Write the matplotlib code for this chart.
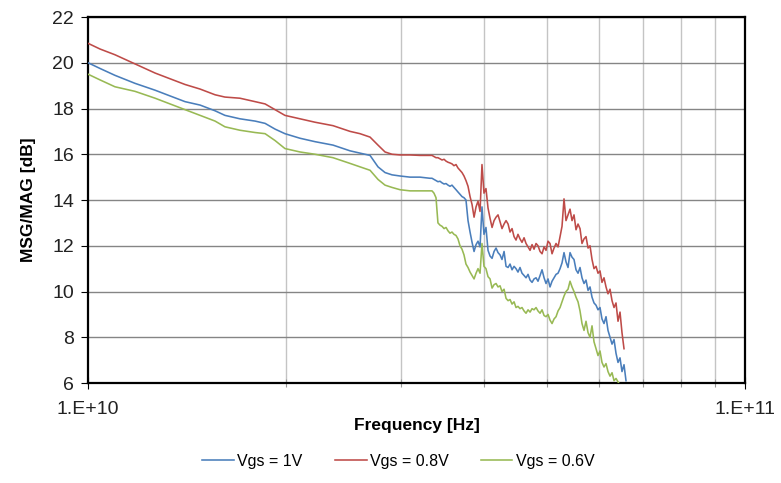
import math
import matplotlib
matplotlib.use('Agg')
import matplotlib.pyplot as plt
from matplotlib.ticker import FixedLocator, NullFormatter, FuncFormatter

# frequency samples (GHz)
freq_smooth = [10.00, 10.43, 10.99, 11.79, 12.65, 13.33, 14.05, 14.81, 15.61, 16.16,
               17.03, 17.96, 18.60, 19.26, 19.94, 21.02, 22.16, 23.60, 25.05, 25.94,
               26.87, 27.63, 28.32, 29.02, 29.85, 30.91, 32.01, 33.15]
freq_noisy = [33.39, 33.62, 33.86, 34.09, 34.34, 34.58, 34.83, 35.07, 35.32, 35.56,
              35.81, 36.06, 36.32, 36.57, 36.83, 37.09, 37.35, 37.61, 37.88, 38.15,
              38.42, 38.69, 38.96, 39.23, 39.51, 39.78, 40.06, 40.34, 40.63, 40.92,
              41.21, 41.50, 41.79, 42.08, 42.38, 42.67, 42.98, 43.28, 43.59, 43.89,
              44.20, 44.51, 44.82, 45.13, 45.45, 45.77, 46.10, 46.42, 46.75, 47.08,
              47.41, 47.74, 48.08, 48.41, 48.76, 49.10, 49.45, 49.79, 50.14, 50.49,
              50.85, 51.21, 51.57, 51.93, 52.30, 52.66, 53.03, 53.40, 53.78, 54.16,
              54.54, 54.92, 55.31, 55.70, 56.09, 56.48, 56.88, 57.28, 57.69, 58.09,
              58.50, 58.91, 59.33, 59.74, 60.16, 60.58, 61.01, 61.44, 61.87, 62.31,
              62.75, 63.19, 63.63, 64.08, 64.53, 64.98, 65.44, 65.90]

# Vgs = 1V
msg_1v = [20.0, 19.75, 19.45, 19.1, 18.8, 18.55, 18.3, 18.15, 17.9, 17.7,
          17.55, 17.45, 17.35, 17.1, 16.9, 16.7, 16.55, 16.4, 16.15, 16.05,
          15.95, 15.45, 15.2, 15.1, 15.05, 15.0, 15.0, 14.95,
          14.95, 14.9, 14.85, 14.8, 14.82, 14.75, 14.7, 14.72, 14.65, 14.6,
          14.65, 14.55, 14.45, 14.35, 14.25, 14.15, 14.1, 14.0, 13.1, 12.6,
          12.15, 11.75, 12.05, 12.2, 11.95, 13.7, 12.5, 12.8, 11.8, 11.55,
          11.45, 11.75, 11.9, 11.7, 11.6, 11.4, 11.75, 11.1, 11.05, 11.2,
          10.95, 11.1, 11.0, 10.85, 11.05, 10.8, 10.7, 10.6, 10.75, 10.5,
          10.4, 10.55, 10.6, 10.45, 10.7, 10.95, 10.6, 10.35, 10.55, 10.2,
          10.45, 10.6, 10.75, 10.8, 11.0, 11.25, 11.7, 11.3, 11.05, 11.7,
          11.5, 11.4, 10.95, 10.8, 11.05, 10.6, 10.35, 10.5, 10.05, 10.2,
          9.75, 9.5, 9.4, 9.2, 9.3, 8.8, 8.6, 8.9, 8.3, 8.0,
          7.7, 7.9, 7.3, 6.9, 7.1, 6.5, 6.8, 6.1]

# Vgs = 0.8V
msg_08v = [20.85, 20.6, 20.35, 19.95, 19.55, 19.3, 19.05, 18.85, 18.6, 18.5,
           18.45, 18.3, 18.2, 17.95, 17.7, 17.55, 17.4, 17.25, 17.0, 16.9,
           16.75, 16.4, 16.1, 16.0, 15.97, 15.97, 15.95, 15.95,
           15.95, 15.9, 15.85, 15.85, 15.8, 15.75, 15.78, 15.7, 15.65, 15.62,
           15.58, 15.5, 15.55, 15.4, 15.3, 15.2, 15.05, 14.85, 14.6, 14.15,
           13.8, 13.25, 13.7, 13.95, 13.5, 15.55, 14.3, 14.5, 13.65, 13.2,
           12.8, 13.1, 13.25, 13.35, 13.05, 12.75, 12.95, 13.1, 12.95, 12.6,
           12.75, 12.4, 12.25, 12.5, 12.3, 12.15, 12.35, 12.1, 11.95, 11.8,
           12.05, 11.85, 12.1, 12.0, 11.75, 11.65, 11.95, 11.8, 12.2, 12.1,
           11.65, 11.9, 12.1, 11.95, 12.4, 12.85, 14.05, 13.1, 13.35, 13.6,
           13.1, 13.35, 12.7, 12.95, 12.75, 12.1, 12.3, 12.4, 11.9, 12.0,
           11.4, 11.0, 11.1, 10.8, 10.9, 10.4, 10.6, 10.2, 9.9, 10.1,
           9.6, 9.3, 9.5, 8.7, 9.1, 8.2, 7.5]

# Vgs = 0.6V
msg_06v = [19.5, 19.25, 18.95, 18.75, 18.45, 18.2, 17.95, 17.7, 17.45, 17.2,
           17.05, 16.95, 16.9, 16.6, 16.25, 16.1, 16.0, 15.85, 15.6, 15.45,
           15.3, 14.9, 14.65, 14.55, 14.45, 14.4, 14.4, 14.4,
           14.4, 14.3, 14.1, 13.0, 12.9, 12.85, 12.75, 12.8, 12.65, 12.55,
           12.6, 12.5, 12.45, 12.3, 12.0, 11.85, 11.6, 11.2, 11.05, 10.85,
           10.7, 10.55, 10.8, 11.0, 10.8, 12.1, 11.1, 11.0, 10.65, 10.55,
           10.15, 10.3, 10.35, 10.2, 10.25, 10.0, 10.1, 9.7, 9.6, 9.65,
           9.45, 9.55, 9.3, 9.35, 9.25, 9.3, 9.15, 9.05, 9.2, 9.1,
           9.25, 9.2, 9.3, 9.15, 9.05, 9.2, 8.95, 8.9, 9.0, 8.75,
           8.6, 8.8, 8.9, 9.15, 9.3, 9.55, 9.8, 10.0, 10.1, 10.45,
           10.2, 10.0, 9.75, 9.55, 9.15, 8.6, 8.3, 8.7, 8.2, 8.0,
           8.5, 7.8, 7.5, 7.2, 7.4, 6.9, 6.7, 6.85, 6.5, 6.3,
           6.45, 6.1, 6.2, 6.05, 5.9]

series = [
    ('Vgs = 1V', msg_1v, '#4a7ebb'),
    ('Vgs = 0.8V', msg_08v, '#be4b48'),
    ('Vgs = 0.6V', msg_06v, '#98b954'),
]


def main():
    plt.rcParams['font.family'] = ['Liberation Sans', 'DejaVu Sans']
    fig = plt.figure(figsize=(7.81, 4.83), dpi=100)
    ax = fig.add_axes([0.1127, 0.207, 0.8412, 0.7578])

    all_freq = freq_smooth + freq_noisy
    for label, vals, color in series:
        f = [v * 1e9 for v in all_freq[:len(vals)]]
        ax.plot(f, vals, color=color, linewidth=1.15, label=label, zorder=3)

    ax.set_xscale('log')
    ax.set_xlim(1e10, 1e11)
    ax.set_ylim(6, 22)
    ax.set_yticks(range(6, 23, 2))
    ax.xaxis.set_major_locator(FixedLocator([1e10, 1e11]))
    ax.xaxis.set_minor_locator(FixedLocator([k * 1e10 for k in range(2, 10)]))
    ax.xaxis.set_major_formatter(FuncFormatter(lambda v, p: '1.E+%d' % round(math.log10(v))))
    ax.xaxis.set_minor_formatter(NullFormatter())

    ax.grid(axis='y', which='major', color='#858585', linewidth=1.0, zorder=0)
    ax.grid(axis='x', which='minor', color='#c4c4c4', linewidth=1.0, zorder=0)

    for s in ax.spines.values():
        s.set_linewidth(1.6)
        s.set_color('black')

    ax.tick_params(axis='y', direction='out', length=5, labelsize=14, pad=5, labelcolor='#222222')
    ax.tick_params(axis='x', which='major', direction='inout', length=8, labelsize=14, pad=9,
                   labelcolor='#222222')
    ax.tick_params(axis='x', which='minor', direction='inout', length=6, width=0.8, colors='#999999')

    ax.set_ylabel('MSG/MAG [dB]', fontsize=12.5, fontweight='bold', labelpad=12)
    ax.set_xlabel('Frequency [Hz]', fontsize=12.5, fontweight='bold', labelpad=0)

    fig.legend(loc='lower center', bbox_to_anchor=(0.51, 0.0), ncol=3, frameon=False,
               fontsize=11.5, handlelength=2.0, handletextpad=0.2, columnspacing=2.0)

    fig.savefig('out.png', dpi=100)


if __name__ == '__main__':
    main()
